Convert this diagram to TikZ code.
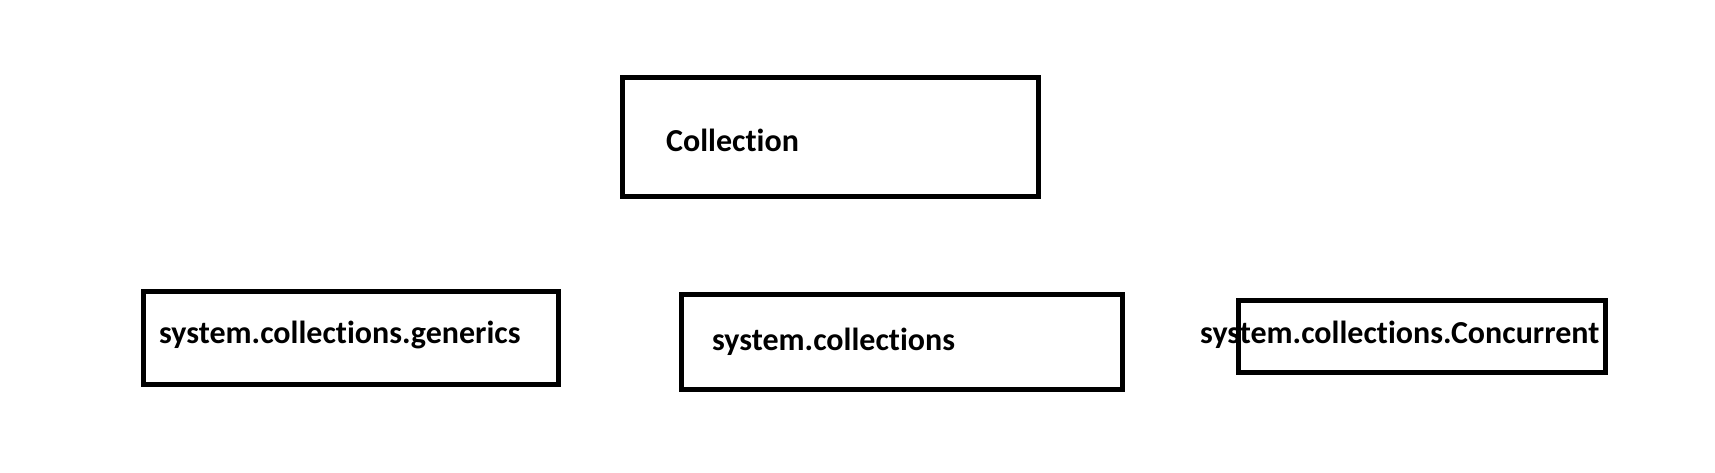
\documentclass[tikz,border=0pt]{standalone}
\usepackage{fontspec}
\setmainfont{Carlito}[Ligatures={NoCommon}]
\usetikzlibrary{positioning}

\tikzset{
    pkgbox/.style={draw, line width=5pt, inner sep=0pt},
    pkglabel/.style={anchor=base west, inner sep=0pt, font=\fontsize{32}{38}\selectfont\bfseries}
}

\begin{document}
\begin{tikzpicture}[x=1pt,y=-1pt]
        % Draw page area
        \useasboundingbox (0,0) rectangle (1715,473);
        % Draw top box
        \node[pkgbox, minimum width=416, minimum height=119] (collbox) at (830.5,137) {};
        \node[pkglabel] (colltext) at (666,152) {Collection};
        % Draw namespace boxes
        \node[pkgbox, minimum width=415, minimum height=93] (genbox) at (351,338) {};
        \node[pkglabel] (gentext) at (159,343) {system.collections.generics};
        \node[pkgbox, minimum width=441, minimum height=95] (sysbox) at (902,342) {};
        \node[pkglabel] (systext) at (712,350) {system.collections};
        \node[pkgbox, minimum width=367, minimum height=72] (concbox) at (1422,336.5) {};
        \node[pkglabel] (conctext) at (1200,343) {system.collections.Concurrent};
\end{tikzpicture}
\end{document}
